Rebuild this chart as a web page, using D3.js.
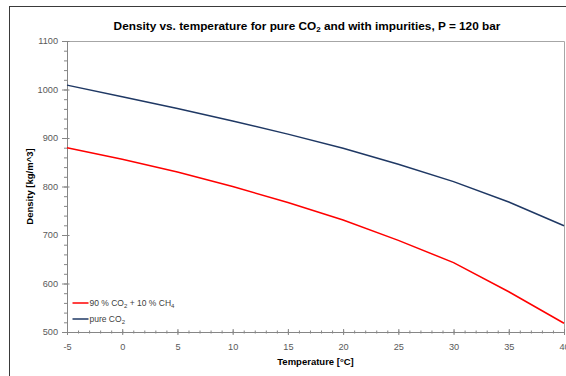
<!DOCTYPE html>
<html>
<head>
<meta charset="utf-8">
<script src="https://cdn.jsdelivr.net/npm/d3@7"></script>
<style>
  body { margin: 0; background: #fff; }
  svg { display: block; font-family: "Liberation Sans", Arial, sans-serif; }
  .axis text { fill: #595959; font-size: 9.2px; font-family: "Liberation Sans", Arial, sans-serif; }
  .axis path, .axis line { stroke: #868686; }
</style>
</head>
<body>
<div class="chart"></div>
<script>
// chart values
var temps = [-5, 0, 5, 10, 15, 20, 25, 30, 35, 40];
var densPure = [1009, 985, 961, 935, 908, 879, 846, 810, 768, 719];
var densMix = [880, 856, 830, 800, 767, 731, 689, 643, 583, 518];
var yTicks = [500, 600, 700, 800, 900, 1000, 1100];
var xTicks = [-5, 0, 5, 10, 15, 20, 25, 30, 35, 40];

var svgWidth = 566;
var svgHeight = 376;

var svg = d3.select(".chart")
  .append("svg")
  .attr("width", svgWidth)
  .attr("height", svgHeight);

// outer chart frame (runs off the right and bottom edge)
svg.append("rect")
  .attr("x", 9.5)
  .attr("y", 6.5)
  .attr("width", 700)
  .attr("height", 500)
  .attr("fill", "none")
  .attr("stroke", "#3a3a3a");

var xScale = d3.scaleLinear().domain([-5, 40]).range([67, 564]);
var yScale = d3.scaleLinear().domain([500, 1100]).range([332, 41]);

// plain hyphen for negatives, like the original
var plain = function(d) { return String(d); };

// plot area border (top + right)
svg.append("path")
  .attr("d", "M" + xScale(-5) + "," + (yScale(1100) + 0.5) + "H" + (xScale(40) + 0.5) + "V" + (yScale(500) + 0.5))
  .attr("fill", "none")
  .attr("stroke", "#a6a6a6");

// minor ticks
var yMinor = d3.range(500, 1101, 20);
var xMinor = d3.range(-5, 41, 1);

svg.append("g")
  .attr("class", "axis")
  .attr("transform", "translate(" + xScale(-5) + ",0)")
  .call(d3.axisLeft(yScale).tickValues(yMinor).tickSize(3).tickSizeOuter(0).tickFormat(""));

svg.append("g")
  .attr("class", "axis")
  .attr("transform", "translate(0," + yScale(500) + ")")
  .call(d3.axisBottom(xScale).tickValues(xMinor).tickSize(1.5).tickSizeOuter(0).tickFormat(""));
svg.append("g")
  .attr("class", "axis")
  .attr("transform", "translate(0," + yScale(500) + ")")
  .call(d3.axisBottom(xScale).tickValues(xMinor).tickSize(-1.5).tickSizeOuter(0).tickFormat(""));

// major ticks, crossing the axis
svg.append("g")
  .attr("class", "axis")
  .attr("transform", "translate(" + xScale(-5) + ",0)")
  .call(d3.axisLeft(yScale).tickValues(yTicks).tickSize(-2.5).tickSizeOuter(0).tickFormat(""));
svg.append("g")
  .attr("class", "axis")
  .attr("transform", "translate(" + xScale(-5) + ",0)")
  .call(d3.axisLeft(yScale).tickValues(yTicks).tickSize(5).tickPadding(4).tickSizeOuter(0).tickFormat(plain));

svg.append("g")
  .attr("class", "axis")
  .attr("transform", "translate(0," + yScale(500) + ")")
  .call(d3.axisBottom(xScale).tickValues(xTicks).tickSize(-3).tickSizeOuter(0).tickFormat(""));
svg.append("g")
  .attr("class", "axis")
  .attr("transform", "translate(0," + yScale(500) + ")")
  .call(d3.axisBottom(xScale).tickValues(xTicks).tickSize(3).tickPadding(8).tickSizeOuter(0).tickFormat(plain));

// lines
var line = d3.line()
  .x(function(d) { return xScale(d[0]); })
  .y(function(d) { return yScale(d[1]); });

svg.append("path")
  .datum(d3.zip(temps, densPure))
  .attr("d", line)
  .attr("fill", "none")
  .attr("stroke", "#1f3864")
  .attr("stroke-width", 1.5);

svg.append("path")
  .datum(d3.zip(temps, densMix))
  .attr("d", line)
  .attr("fill", "none")
  .attr("stroke", "#ff0000")
  .attr("stroke-width", 1.5);

// title
var title = svg.append("text")
  .attr("x", 307)
  .attr("y", 29.5)
  .attr("text-anchor", "middle")
  .attr("font-weight", "bold")
  .attr("font-size", "11.8px")
  .attr("fill", "#000");
title.append("tspan").text("Density vs. temperature for pure CO");
title.append("tspan").attr("font-size", "8px").attr("dy", 2).text("2");
title.append("tspan").attr("dy", -2).text(" and with impurities, P = 120 bar");

// axis titles
svg.append("text")
  .attr("transform", "translate(33," + ((yScale(500) + yScale(1100)) / 2) + ") rotate(-90)")
  .attr("text-anchor", "middle")
  .attr("font-weight", "bold")
  .attr("font-size", "9.5px")
  .attr("fill", "#000")
  .text("Density [kg/m^3]");

svg.append("text")
  .attr("x", (xScale(-5) + xScale(40)) / 2)
  .attr("y", 365)
  .attr("text-anchor", "middle")
  .attr("font-weight", "bold")
  .attr("font-size", "9.5px")
  .attr("fill", "#000")
  .text("Temperature [°C]");

// legend
var legend = [
  { color: "#ff0000", parts: [["90 % CO", 0], ["2", 1], [" + 10 % CH", 0], ["4", 1]] },
  { color: "#1f3864", parts: [["pure CO", 0], ["2", 1]] }
];

var leg = svg.selectAll(".legend")
  .data(legend)
  .enter()
  .append("g")
  .attr("class", "legend")
  .attr("transform", function(d, i) { return "translate(72," + (303 + i * 16) + ")"; });

leg.append("line")
  .attr("x1", 0.5)
  .attr("x2", 16.5)
  .attr("stroke", function(d) { return d.color; })
  .attr("stroke-width", 1.5);

var legText = leg.append("text")
  .attr("x", 17.5)
  .attr("y", 3)
  .attr("font-size", "8.5px")
  .attr("fill", "#404040");

legText.each(function(d) {
  var t = d3.select(this);
  d.parts.forEach(function(p, k) {
    var prevSub = k > 0 && d.parts[k - 1][1];
    t.append("tspan")
      .attr("font-size", p[1] ? "6px" : "8.5px")
      .attr("dy", p[1] ? 1.5 : (prevSub ? -1.5 : 0))
      .text(p[0]);
  });
});
</script>
</body>
</html>
